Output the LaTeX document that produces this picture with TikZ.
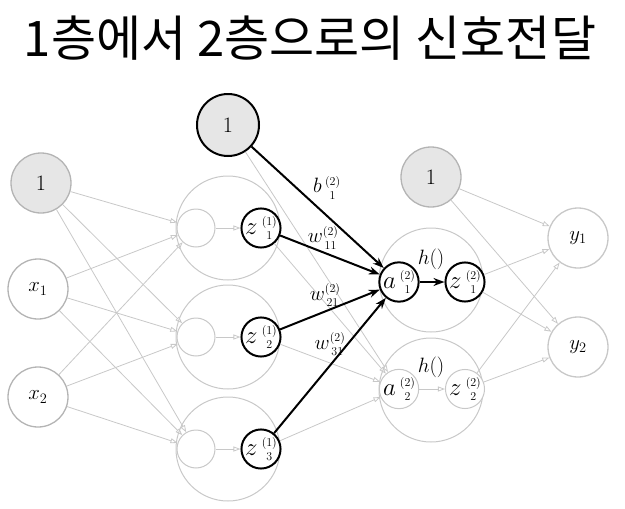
\documentclass[tikz,border=0pt]{standalone}
\usepackage{fontspec}
\newfontfamily\cjk{Noto Sans CJK KR}
\usepackage{tikz}
\usetikzlibrary{arrows.meta, positioning}
\definecolor{linegray}{HTML}{C8C8C8}
\definecolor{rimgray}{HTML}{B4B4B4}
\definecolor{biasfill}{HTML}{E6E6E6}
% letter with a (layer) index over a unit index
\newcommand{\nlab}[4][3]{$#2\mkern#1mu\vcenter{\hbox{\fontsize{12}{11}\selectfont\shortstack{(#3)\\#4}}}$}

\begin{document}
\begin{tikzpicture}[
    x=1pt, y=-1pt,
    unitnode/.style={circle, draw=rimgray, line width=1.3pt, fill=white, minimum size=60pt,
                     inner sep=0pt, font=\fontsize{22}{26}\selectfont},
    biasnode/.style={unitnode, fill=biasfill},
    groupnode/.style={circle, draw=linegray, line width=1pt, minimum size=104pt, inner sep=0pt},
    innernode/.style={circle, draw=linegray, line width=1pt, minimum size=38pt, inner sep=0pt},
    quietnode/.style={circle, draw=linegray, line width=1pt, fill=white, minimum size=39pt,
                      inner sep=0pt, font=\fontsize{23}{27}\selectfont},
    activenode/.style={quietnode, draw=black, line width=2pt},
    wlabel/.style={font=\fontsize{22}{26}\selectfont, inner sep=1pt},
    conn/.style={-{Triangle[open, length=7pt, width=5pt]}, draw=linegray, line width=0.8pt},
    boldconn/.style={-{Stealth[length=11pt, width=8pt]}, line width=2pt, black}
]
    \useasboundingbox (0,0) rectangle (625,509);
    \node[font=\cjk\fontsize{49}{53}\selectfont] (title) at (310,38) {1층에서 2층으로의 신호전달};

    % input layer
    \node[biasnode] (bias0) at (41,183) {1};
    \node[unitnode] (xin1) at (38,289) {$x_{1}$};
    \node[unitnode] (xin2) at (38,397) {$x_{2}$};

    % first layer
    \foreach \k/\y in {1/228, 2/337, 3/449} {
        \node[groupnode] (grp\k) at (228,\y) {};
        \node[innernode] (inner\k) at (196,\y) {};
        \node[activenode] (zout\k) at (261,\y) {\nlab{z}{1}{\k}};
    }
    \node[biasnode, draw=black, line width=2pt, minimum size=62pt] (bias1) at (228,125) {1};

    % second layer
    \node[biasnode] (bias2) at (431,177) {1};
    \node[groupnode] (grpb1) at (431,280) {};
    \node[groupnode] (grpb2) at (431,390) {};
    \node[wlabel, font=\fontsize{20}{24}\selectfont] (hfun1) at (431,259) {$h()$};
    \node[wlabel, font=\fontsize{20}{24}\selectfont] (hfun2) at (431,367) {$h()$};
    \node[activenode] (asum1) at (399,282) {\nlab{a}{2}{1}};
    \node[activenode] (zact1) at (465,282) {\nlab{z}{2}{1}};
    \node[quietnode] (asum2) at (399,389) {\nlab{a}{2}{2}};
    \node[quietnode] (zact2) at (465,389) {\nlab{z}{2}{2}};

    % output layer
    \node[unitnode, draw=linegray] (yout1) at (578,238) {$y_{1}$};
    \node[unitnode, draw=linegray] (yout2) at (578,347) {$y_{2}$};

    % gray connections
    \foreach \s in {bias0, xin1, xin2}
        \foreach \t in {inner1, inner2, inner3}
            \draw[conn] (\s) -- (\t);
    \foreach \k in {1,2,3} {
        \draw[conn] (inner\k) -- (zout\k);
        \draw[conn] (zout\k) -- (asum2);
    }
    \draw[conn] (bias1) -- (asum2);
    \draw[conn] (asum2) -- (zact2);
    \foreach \s in {bias2, zact1, zact2}
        \foreach \t in {yout1, yout2}
            \draw[conn] (\s) -- (\t);

    % signal into a_1
    \draw[boldconn] (bias1) -- node[wlabel, pos=0.45, anchor=south west] {\nlab{b}{2}{1}} (asum1);
    \draw[boldconn] (zout1) -- node[wlabel, pos=0.43, above=1pt] {\nlab[0]{w}{2}{11}} (asum1);
    \draw[boldconn] (zout2) -- node[wlabel, pos=0.45, above=3pt] {\nlab[0]{w}{2}{21}} (asum1);
    \draw[boldconn] (zout3) -- node[wlabel, pos=0.66, left=1pt] {\nlab[0]{w}{2}{31}} (asum1);
    \draw[boldconn] (asum1) -- (zact1);
\end{tikzpicture}
\end{document}
